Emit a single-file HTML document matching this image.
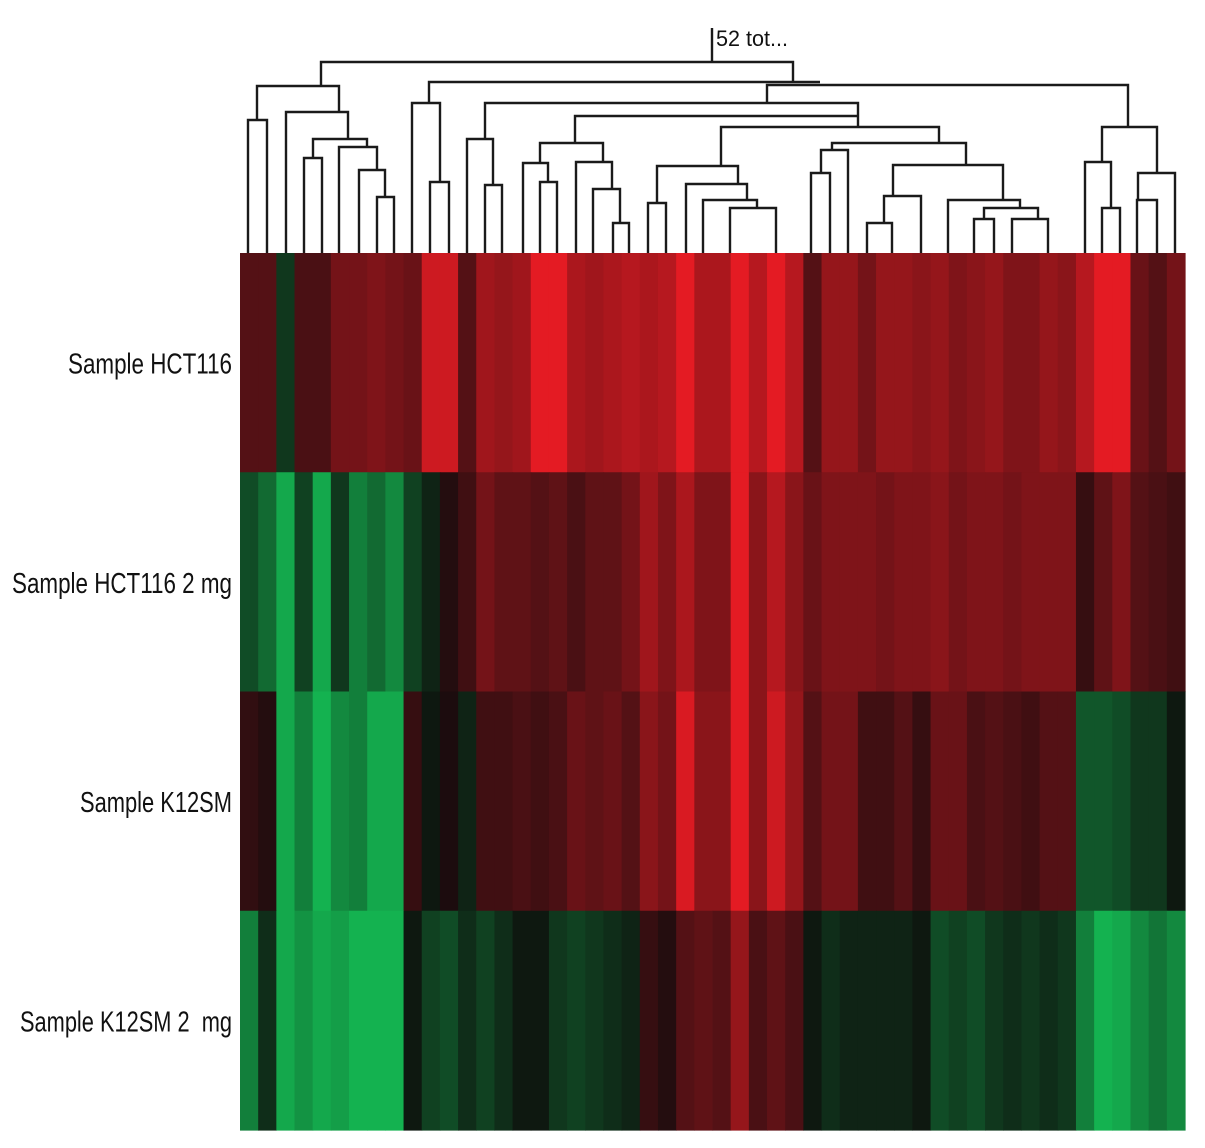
<!DOCTYPE html>
<html><head><meta charset="utf-8">
<style>
html,body{margin:0;padding:0;background:#fff;}
svg{display:block;}
text{font-family:"Liberation Sans",sans-serif;fill:#111;white-space:pre;}
</style></head>
<body>
<svg id="chart" width="1205" height="1148" viewBox="0 0 1205 1148">
  <g id="dendro" stroke="#1a1a1a" stroke-width="2.4" fill="none"></g>
  <text x="716" y="46" font-size="22" textLength="72" lengthAdjust="spacingAndGlyphs">52 tot...</text>
  <g id="cells"></g>
  <g id="labels"></g>
</svg>
<script>
const rowLabels = ["Sample HCT116","Sample HCT116 2 mg","Sample K12SM","Sample K12SM 2  mg"];
const rowHCT116 = [0.3,0.3,-0.2,0.25,0.25,0.45,0.45,0.5,0.45,0.4,0.85,0.85,0.3,0.65,0.6,0.65,0.95,0.95,0.7,0.65,0.7,0.75,0.7,0.75,0.95,0.7,0.7,0.95,0.75,0.95,0.75,0.3,0.6,0.6,0.45,0.6,0.6,0.55,0.6,0.5,0.55,0.6,0.5,0.5,0.6,0.55,0.75,0.95,0.95,0.4,0.3,0.45];
const rowHCT116_2mg = [-0.3,-0.45,-0.75,-0.25,-0.75,-0.2,-0.55,-0.45,-0.6,-0.25,-0.1,0.05,0.2,0.45,0.35,0.35,0.3,0.35,0.25,0.35,0.35,0.45,0.65,0.5,0.7,0.5,0.5,0.95,0.55,0.75,0.55,0.4,0.5,0.5,0.5,0.45,0.5,0.5,0.55,0.45,0.5,0.5,0.45,0.5,0.5,0.5,0.15,0.35,0.5,0.3,0.25,0.2];
const rowK12SM = [0.12,0.05,-0.75,-0.55,-0.8,-0.6,-0.55,-0.75,-0.75,0.15,-0.05,0.0,-0.1,0.2,0.2,0.25,0.2,0.25,0.4,0.35,0.4,0.3,0.55,0.45,0.9,0.55,0.55,0.95,0.55,0.85,0.6,0.3,0.45,0.45,0.2,0.2,0.3,0.15,0.4,0.4,0.25,0.3,0.25,0.2,0.3,0.3,-0.35,-0.35,-0.3,-0.2,-0.2,-0.05];
const rowK12SM_2mg = [-0.55,-0.15,-0.75,-0.65,-0.75,-0.7,-0.8,-0.8,-0.8,-0.05,-0.25,-0.3,-0.15,-0.25,-0.15,-0.05,-0.05,-0.2,-0.25,-0.2,-0.15,-0.1,0.15,0.05,0.3,0.35,0.3,0.6,0.25,0.35,0.25,-0.05,-0.15,-0.1,-0.1,-0.1,-0.1,-0.05,-0.3,-0.25,-0.3,-0.2,-0.15,-0.2,-0.15,-0.2,-0.55,-0.8,-0.75,-0.6,-0.5,-0.6];
const matrix = [rowHCT116,rowHCT116_2mg,rowK12SM,rowK12SM_2mg];

const NS="http://www.w3.org/2000/svg";
const X0=240,X1=1185,Y0=253,Y1=1130;
const nCols=rowHCT116.length;
function xScale(i){return X0+(X1-X0)*i/nCols;}
function yScale(r){return Y0+(Y1-Y0)*r/matrix.length;}
function color(v){
  if(v>=0){const r=Math.round(28+212*Math.pow(v,1.1)),g=Math.round(12+16*v),b=Math.round(14+22*v);return `rgb(${r},${g},${b})`;}
  const a=-v;return `rgb(${Math.round(14+8*a)},${Math.round(14+205*a)},${Math.round(12+85*a)})`;
}
const cells=document.getElementById('cells');
matrix.forEach((row,r)=>{
  row.forEach((v,c)=>{
    const el=document.createElementNS(NS,'rect');
    
    
    el.setAttribute('x',xScale(c));el.setAttribute('y',yScale(r));
    el.setAttribute('width',xScale(c+1)-xScale(c)+0.6);el.setAttribute('height',yScale(r+1)-yScale(r)+0.6);
    el.setAttribute('fill',color(v));
    cells.appendChild(el);
  });
});
const labels=document.getElementById('labels');
const labelW=[164,220,152,212];
rowLabels.forEach((t,r)=>{
  const el=document.createElementNS(NS,'text');
  
  
  el.setAttribute('x',232);el.setAttribute('y',(yScale(r)+yScale(r+1))/2+11);
  el.setAttribute('text-anchor','end');el.setAttribute('font-size','29');
  el.setAttribute('textLength',labelW[r]);el.setAttribute('lengthAdjust','spacingAndGlyphs');
  el.textContent=t;labels.appendChild(el);
});
// dendrogram links: [xl, xr, top, leftBottom, rightBottom]
const links=[[248,267,120,253,253],[304,322,158,253,253],[377,394,197,253,253],[359,385,170,253,197],[339,377,147,253,170],[313,367,139,158,147],[286,348,112,253,139],[257,339,86,120,112],[321,793,62,86,82],[429,820,82,103,82],[767,1128,85,103,127],[412,440,103,253,182],[430,449,182,253,253],[485,767,103,139,103],[767,858,103,103,116],[467,493,139,253,185],[485,502,185,253,253],[575,858,116,143,127],[540,603,143,163,162],[523,548,163,253,182],[540,557,182,253,253],[576,612,162,253,189],[593,620,189,253,223],[613,629,223,253,253],[721,939,127,166,143],[657,738,166,203,184],[648,666,203,253,253],[686,747,184,253,200],[703,757,200,253,208],[730,776,208,253,253],[832,966,143,150,165],[821,848,150,173,253],[811,830,173,253,253],[893,1003,165,196,200],[884,921,196,223,253],[867,892,223,253,253],[948,1020,200,253,208],[984,1038,208,219,219],[974,994,219,253,253],[1012,1048,219,253,253],[1102,1157,127,162,173],[1085,1111,162,253,208],[1102,1120,208,253,253],[1138,1175,173,200,253],[1137,1157,200,253,253]];
const dendro=document.getElementById('dendro');
let d="M712 28 V62 ";
links.forEach(l=>{d+=`M${l[0]} ${l[3]} V${l[2]} H${l[1]} V${l[4]} `;});
const p=document.createElementNS(NS,'path');


p.setAttribute('d',d);dendro.appendChild(p);
</script>
</body></html>
